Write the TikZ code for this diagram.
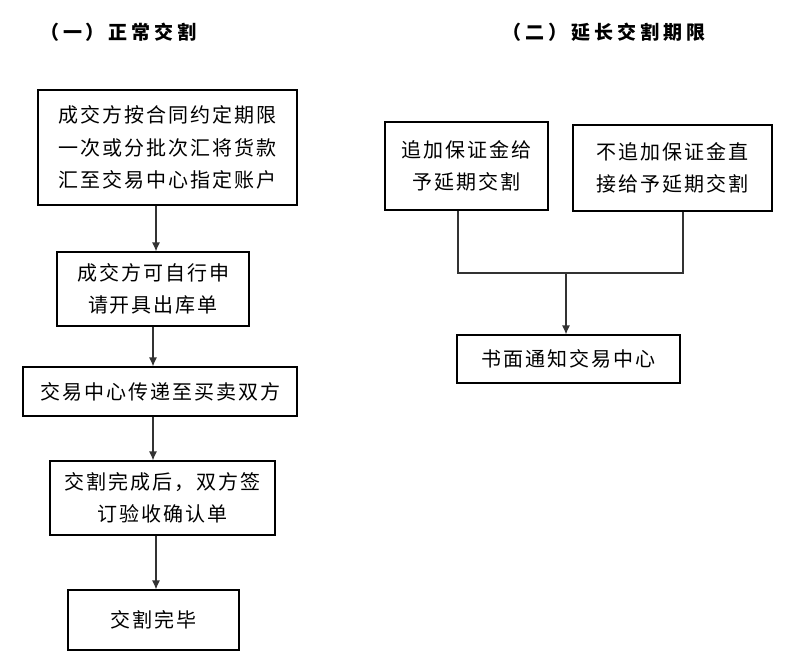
\documentclass[tikz,border=0pt]{standalone}
\usepackage{fontspec}
\setmainfont{Noto Sans CJK SC}[LetterSpace=10]
\newfontfamily\titlefont{Noto Sans CJK SC}[LetterSpace=21]
\usetikzlibrary{arrows.meta}
\begin{document}
\begin{tikzpicture}[x=1pt,y=-1pt,
  box/.style={draw=black,line width=1.1pt,align=center,inner sep=0pt,
    font=\fontsize{20}{32.5}\selectfont},
  ttl/.style={font=\titlefont\bfseries\fontsize{19}{22}\selectfont,inner sep=0pt},
  arr/.style={draw=black!80,line width=1.2pt,-{Latex[length=9pt,width=8pt]}},
  ln/.style={draw=black!80,line width=1.2pt}]
\useasboundingbox (0,0) rectangle (798,663);
\node[ttl] (t1) at (118.5,32) {（一）正常交割};
\node[ttl] (t2) at (604,32) {（二）延长交割期限};
\node[box,minimum width=259pt,minimum height=115pt] (b1) at (167.5,147.5)
  {成交方按合同约定期限\\一次或分批次汇将货款\\汇至交易中心指定账户};
\node[box,minimum width=192pt,minimum height=74pt] (b2) at (153,289)
  {成交方可自行申\\请开具出库单};
\node[box,minimum width=274pt,minimum height=49pt] (b3) at (160,391.5)
  {交易中心传递至买卖双方};
\node[box,minimum width=225pt,minimum height=74pt] (b4) at (162.5,498)
  {交割完成后，双方签\\订验收确认单};
\node[box,minimum width=171pt,minimum height=60pt] (b5) at (153.5,620)
  {交割完毕};
\draw[arr] (b1.south -| 156,0) -- (b2.north -| 156,0);
\draw[arr] (b2.south -| 153,0) -- (b3.north -| 153,0);
\draw[arr] (b3.south -| 153,0) -- (b4.north -| 153,0);
\draw[arr] (b4.south -| 156,0) -- (b5.north -| 156,0);
\node[box,minimum width=163pt,minimum height=88pt] (ba) at (466.5,166)
  {追加保证金给\\予延期交割};
\node[box,minimum width=199pt,minimum height=86pt] (bb) at (672.5,168)
  {不追加保证金直\\接给予延期交割};
\node[box,minimum width=223pt,minimum height=48pt] (bc) at (568.5,359)
  {书面通知交易中心};
\coordinate (j) at (566,273);
\draw[ln] (ba.south -| 458,0) |- (j);
\draw[ln] (bb.south -| 683,0) |- (j);
\draw[arr] (j) -- (bc.north -| j);
\end{tikzpicture}
\end{document}
